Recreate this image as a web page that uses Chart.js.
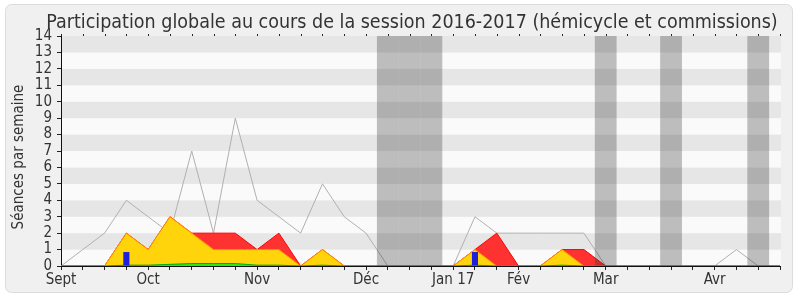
<!DOCTYPE html>
<html>
<head>
<meta charset="utf-8">
<script src="https://cdn.jsdelivr.net/npm/chart.js@4/dist/chart.umd.min.js"></script>
<style>
  html, body { margin: 0; padding: 0; background: #ffffff; }
  canvas { display: block; }
</style>
</head>
<body>
<canvas id="c" width="800" height="300"></canvas>
<script>
// ---- Data (one entry per week, from Sept 2016 to Apr 2017) ----
const weekLabels = ['Sept','','','','Oct','','','','','Nov','','','','','Déc','','','','Jan 17','','','Fév','','','','Mar','','','','','Avr','','',''];
const seancesSemaine   = [0,1,2,4,3,2,7,2,9,4,3,2,5,3,2,0,0,0,0,3,2,2,2,2,2,0,0,0,0,0,0,1,0,0];
const presencesTotal   = [0,0,0,2,1,3,2,2,2,1,2,0,1,0,0,0,0,0,0,1,2,0,0,1,1,0,0,0,0,0,0,0,0,0];
const presencesComm    = [0,0,0,2,1,3,2,1,1,1,1,0,1,0,0,0,0,0,0,1,0,0,0,1,0,0,0,0,0,0,0,0,0,0];
const participations   = [0,0,0,0.05,0.05,0.1,0.15,0.15,0.15,0.05,0.05,0,0.05,0,0,0,0,0,0,0.05,0,0,0,0.05,0,0,0,0,0,0,0,0,0,0];
const questionsOrales  = [null,null,null,0.85,null,null,null,null,null,null,null,null,null,null,null,null,null,null,null,0.85,null,null,null,null,null,null,null,null,null,null,null,null,null,null];
const vacances         = [null,null,null,null,null,null,null,null,null,null,null,null,null,null,null,14,14,14,null,null,null,null,null,null,null,14,null,null,14,null,null,null,14,null];
const yMax = 14;
const titleText = 'Participation globale au cours de la session 2016-2017 (hémicycle et commissions)';
const yTitleText = 'Séances par semaine';

const FONT = 'DejaVu Sans Condensed';

const decorPlugin = {
  id: 'decor',
  beforeDraw(chart) {
    const ctx = chart.ctx;
    const ca = chart.chartArea;
    const y = chart.scales.y;
    ctx.save();
    // outer frame
    ctx.fillStyle = '#ffffff';
    ctx.fillRect(0, 0, chart.width, chart.height);
    ctx.beginPath();
    ctx.roundRect(5.5, 4.5, 787, 288, 6);
    ctx.fillStyle = '#f0f0f0';
    ctx.fill();
    ctx.strokeStyle = '#dcdcdc';
    ctx.lineWidth = 1;
    ctx.stroke();
    // horizontal stripes
    for (let v = 0; v < yMax; v++) {
      const top = y.getPixelForValue(v + 1);
      const bot = y.getPixelForValue(v);
      ctx.fillStyle = (v % 2 === 1) ? '#e6e6e6' : '#fafafa';
      ctx.fillRect(ca.left, top, ca.right - ca.left + 1, bot - top);
    }
    ctx.restore();
  },
  afterDraw(chart) {
    const ctx = chart.ctx;
    const ca = chart.chartArea;
    const x = chart.scales.x;
    ctx.save();
    // top tick marks
    ctx.fillStyle = '#222';
    for (let i = 0; i < weekLabels.length; i++) {
      const px = Math.round(x.getPixelForValue(i));
      ctx.fillRect(px, ca.top - 2, 1, 2);
    }
    // title
    ctx.fillStyle = '#333';
    ctx.font = '19.5px "' + FONT + '"';
    ctx.textAlign = 'center';
    ctx.textBaseline = 'alphabetic';
    ctx.fillText(titleText, 412, 27.5);
    // y axis title
    ctx.translate(23, 157);
    ctx.rotate(-Math.PI / 2);
    ctx.font = '15px "' + FONT + '"';
    ctx.textBaseline = 'alphabetic';
    ctx.fillText(yTitleText, 0, 0);
    ctx.restore();
  }
};

new Chart(document.getElementById('c'), {
  data: {
    labels: weekLabels,
    datasets: [
      { type: 'bar', label: 'Vacances', data: vacances, backgroundColor: 'rgba(50,50,50,0.3)',
        barPercentage: 1, categoryPercentage: 1, grouped: false, inflateAmount: 0, borderWidth: 0, order: 0 },
      { type: 'bar', label: 'Questions orales', data: questionsOrales, backgroundColor: 'rgb(30,30,220)',
        barPercentage: 0.28, categoryPercentage: 1, grouped: false, order: 1 },
      { type: 'line', label: 'Participations', data: participations, borderColor: 'rgb(0,170,0)',
        backgroundColor: 'rgb(40,235,20)', borderWidth: 1, fill: 'origin', pointRadius: 0, tension: 0, order: 2 },
      { type: 'line', label: 'Présences commission', data: presencesComm, borderColor: 'rgb(255,140,0)',
        backgroundColor: 'rgb(255,212,10)', borderWidth: 1, fill: 'origin', pointRadius: 0, tension: 0, order: 3 },
      { type: 'line', label: 'Présences', data: presencesTotal, borderColor: 'rgb(255,0,0)',
        backgroundColor: 'rgb(255,50,50)', borderWidth: 1, fill: 'origin', pointRadius: 0, tension: 0, order: 4 },
      { type: 'line', label: 'Séances', data: seancesSemaine, borderColor: 'rgb(176,176,176)',
        borderWidth: 1, fill: false, pointRadius: 0, tension: 0, order: 5 }
    ]
  },
  options: {
    responsive: false,
    animation: false,
    devicePixelRatio: 1,
    layout: { padding: { left: 6, right: 20, top: 36, bottom: 8 } },
    plugins: { legend: { display: false }, title: { display: false }, tooltip: { enabled: false } },
    scales: {
      x: {
        type: 'category', offset: false,
        grid: { display: true, drawOnChartArea: false, tickLength: 4, color: '#222', offset: false },
        border: { display: true, color: '#111' },
        ticks: { autoSkip: false, maxRotation: 0, minRotation: 0, padding: 1, color: '#333',
                 font: { family: FONT, size: 15 } },
        afterFit(s) { s.height = 26; }
      },
      y: {
        type: 'linear', min: 0, max: yMax,
        grid: { display: true, drawOnChartArea: false, tickLength: 4, color: '#222' },
        border: { display: true, color: '#111' },
        ticks: { stepSize: 1, autoSkip: false, padding: 5, color: '#333', font: { family: FONT, size: 15 } },
        afterFit(s) { s.width = 55; }
      }
    }
  },
  plugins: [decorPlugin]
});
</script>
</body>
</html>
